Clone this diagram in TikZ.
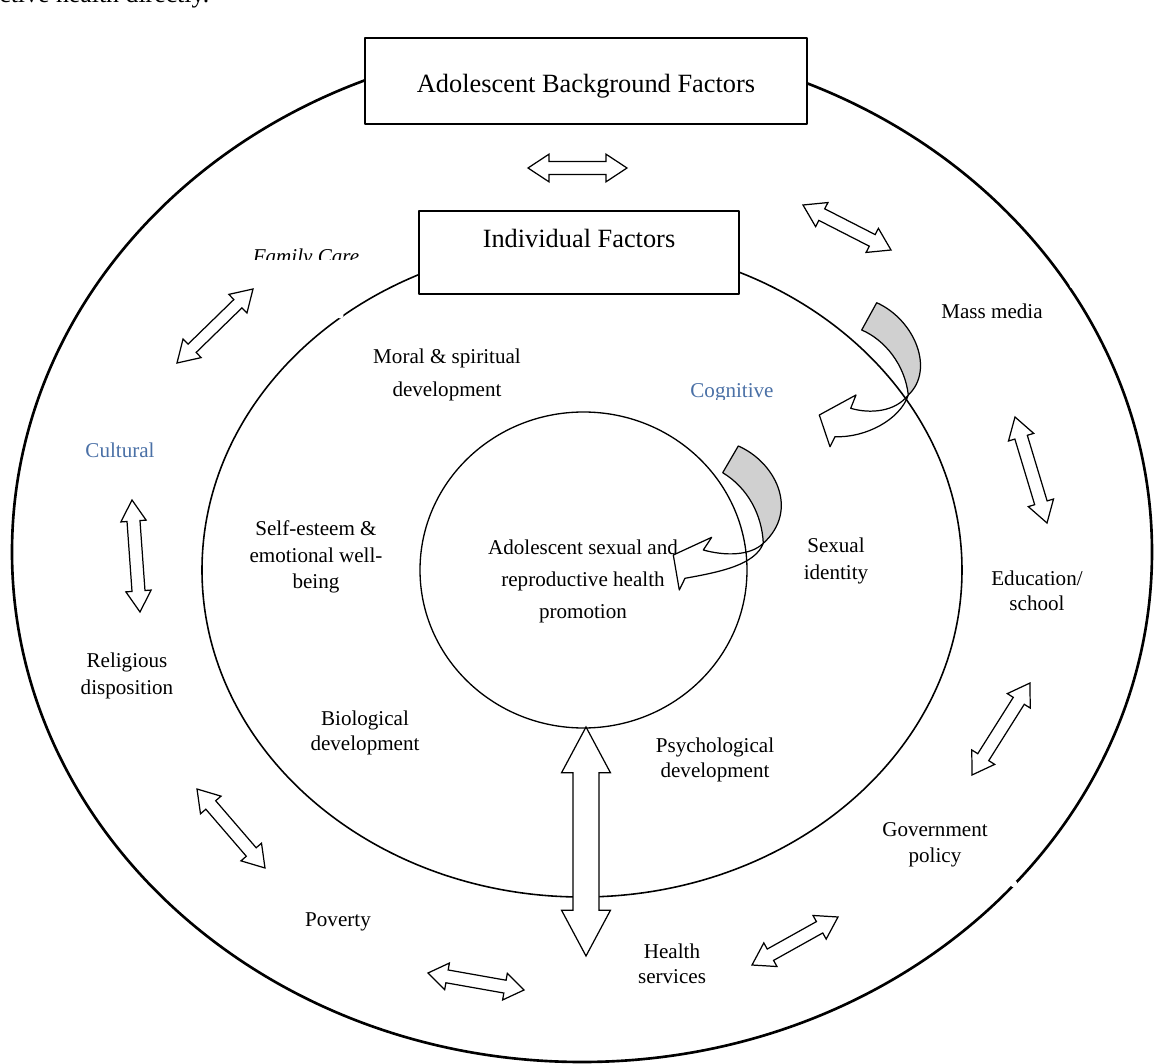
\documentclass[tikz,border=0pt]{standalone}
\usepackage{fontspec}
\setmainfont{Liberation Serif}
\usetikzlibrary{calc}
\definecolor{labelblue}{RGB}{74,112,166}
\definecolor{foldgray}{RGB}{208,208,208}

\newcommand\twoway[5]{%
  \coordinate (ta) at (#1); \coordinate (tb) at (#2);
  \coordinate (ha) at ($(ta)!#5!(tb)$); \coordinate (hb) at ($(tb)!#5!(ta)$);
  \draw[blockarrow] (ta) -- ($(ha)!#4!90:(tb)$) -- ($(ha)!#3!90:(tb)$) -- ($(hb)!#3!-90:(ta)$)
    -- ($(hb)!#4!-90:(ta)$) -- (tb) -- ($(hb)!#4!90:(ta)$) -- ($(hb)!#3!90:(ta)$)
    -- ($(ha)!#3!-90:(tb)$) -- ($(ha)!#4!-90:(tb)$) -- cycle;}

\begin{document}
\begin{tikzpicture}[x=0.02cm,y=-0.02cm,line join=round,
  facbox/.style={draw,line width=1.1pt,fill=white,inner sep=0pt},
  lbl/.style={font=\fontsize{12}{15}\selectfont,align=center,inner sep=0pt},
  bluelbl/.style={lbl,text=labelblue},
  blockarrow/.style={draw,fill=white,line width=0.7pt,line join=miter},
  foldback/.style={draw,fill=foldgray,line width=0.7pt},
  foldfront/.style={draw,fill=white,line width=0.7pt}]
\useasboundingbox (0,0) rectangle (1154,1064);

% curved arrows
\draw[foldback] (876.7,302.7) .. controls (915,320) and (935,370) .. (908.3,395)
  .. controls (905,365) and (885,340) .. (861.7,330) -- cycle;
\draw[foldfront] (908.3,395) .. controls (895,412) and (870,414) .. (850.7,408.3) -- (856,395)
  -- (819.3,415) -- (830,446.7) -- (835,436.7) .. controls (865,438) and (900,420) .. (908.3,395) -- cycle;
\draw[foldback] (738.3,446) .. controls (775,462) and (800,510) .. (763.3,543.3)
  .. controls (762,515) and (748,488) .. (722.7,472.7) -- cycle;
\draw[foldfront] (763.3,543.3) .. controls (750,556) and (725,556) .. (703.3,550) -- (711.7,537.3)
  -- (673.3,555) -- (679.3,590) -- (685,578.3) .. controls (720,572) and (755,565) .. (763.3,543.3) -- cycle;

% rings
\draw[line width=1.5pt] (582,552) ellipse (570 and 510);
\draw[line width=0.9pt] (582,570) ellipse (380 and 327);
\draw[line width=0.75pt] (583.5,570) ellipse (163.5 and 158);
\foreach \gx/\gy in {1073/285,340/315,1014/884}
  \fill[white] (\gx,\gy) circle (3.5);

% boxes
\node[facbox,minimum width=8.84cm,minimum height=1.72cm] (bgbox) at (586,81) {};
\node[lbl,font=\fontsize{15}{18}\selectfont] (bgtext) at (586,86) {Adolescent Background Factors};
\node[facbox,minimum width=6.4cm,minimum height=1.66cm] (indbox) at (579,252.5) {};
\node[lbl,font=\fontsize{15}{18}\selectfont] (indtext) at (579,238) {Individual Factors};

% two-way arrows
\twoway{528,168}{627,168}{3.7pt}{7.9pt}{12pt}
\twoway{803,205}{891,250}{3.7pt}{7.7pt}{12pt}
\twoway{253,289}{177,363}{3.3pt}{7.4pt}{12pt}
\twoway{132,500}{140,612}{3.7pt}{7.2pt}{12pt}
\twoway{1015,417}{1047,523}{3.7pt}{7.5pt}{12pt}
\twoway{1030,683}{972,775}{3.7pt}{7.7pt}{12pt}
\twoway{838,917}{752,965}{3.7pt}{7.7pt}{12pt}
\twoway{428,973}{524,990}{3.7pt}{7.7pt}{11pt}
\twoway{197,789}{265,868}{3.7pt}{7.7pt}{12pt}
\twoway{586,727}{586,956}{7.4pt}{13.9pt}{26pt}

% labels
\node[lbl,font=\fontsize{14.7}{17}\selectfont,anchor=base west] (cut) at (-1,3) {ctive health directly.};
\begin{scope}
\clip (200,240) rectangle (415,259.5);
\node[lbl,font=\fontsize{12}{15}\selectfont\itshape,anchor=base] (family) at (306,264) {Family Care};
\end{scope}
\begin{scope}
\clip (660,370) rectangle (800,400);
\node[bluelbl,anchor=base] (cognitive) at (732,398) {Cognitive};
\end{scope}
\node[lbl] (mass) at (992,311) {Mass media};
\node[lbl,font=\fontsize{12}{18.7}\selectfont] (moral) at (447,375) {Moral \& spiritual\\development};
\node[bluelbl] (cultural) at (120,450) {Cultural};
\node[lbl] (esteem) at (316,557) {Self-esteem \&\\emotional well-\\being};
\node[lbl,font=\fontsize{12}{18.2}\selectfont] (asrh) at (583,581) {Adolescent sexual and\\reproductive health\\promotion};
\node[lbl] (sexual) at (836,561) {Sexual\\identity};
\node[lbl,font=\fontsize{12}{14.2}\selectfont] (edu) at (1037,591) {Education/\\school};
\node[lbl] (religious) at (127,676) {Religious\\disposition};
\node[lbl,font=\fontsize{12}{14.2}\selectfont] (bio) at (365,733) {Biological\\development};
\node[lbl,font=\fontsize{12}{14.2}\selectfont] (psych) at (715,760) {Psychological\\development};
\node[lbl] (gov) at (935,845) {Government\\policy};
\node[lbl] (poverty) at (338,922) {Poverty};
\node[lbl,font=\fontsize{12}{14.2}\selectfont] (health) at (672,964) {Health\\services};
\end{tikzpicture}
\end{document}
